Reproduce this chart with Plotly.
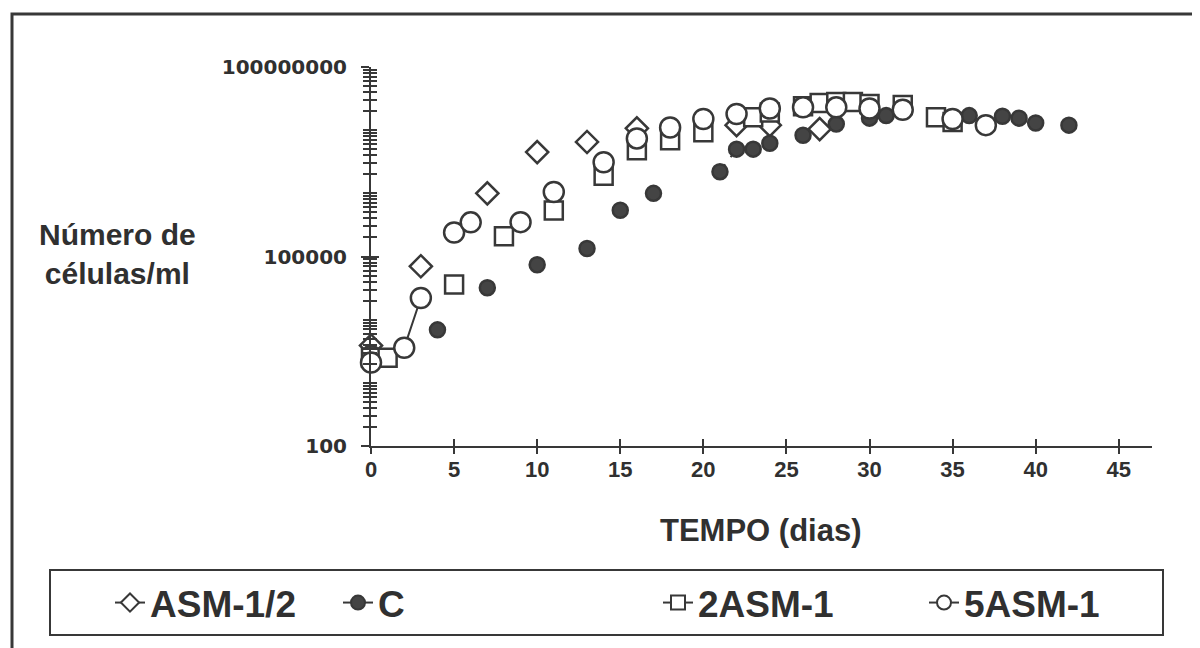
import plotly.graph_objects as go

# ---- data ----
asm12_days = [0, 3, 7, 10, 13, 16, 22, 24, 27]
asm12_vals = [3900, 70000, 1.0e6, 4.5e6, 6.5e6, 1.07e7, 1.2e7, 1.2e7, 1.04e7]

c_days = [0, 4, 7, 10, 13, 15, 17, 21, 22, 23, 24, 26, 28, 30, 31, 36, 38, 39, 40, 42]
c_vals = [3000, 6900, 32000, 74000, 134000, 5.4e5, 1.0e6, 2.2e6, 5.0e6, 5.0e6, 6.2e6,
          8.3e6, 1.25e7, 1.55e7, 1.7e7, 1.7e7, 1.66e7, 1.55e7, 1.3e7, 1.2e7]

a2_days = [0, 1, 5, 8, 11, 14, 16, 18, 20, 23, 24, 26, 27, 28, 29, 30, 32, 34, 35]
a2_vals = [2500, 2500, 36000, 2.09e5, 5.37e5, 1.9e6, 4.8e6, 6.9e6, 9.3e6, 1.6e7, 1.9e7,
           2.4e7, 2.7e7, 2.8e7, 2.8e7, 2.6e7, 2.5e7, 1.6e7, 1.35e7]

a5_days = [0, 2, 3, 5, 6, 9, 11, 14, 16, 18, 20, 22, 24, 26, 28, 30, 32, 35, 37]
a5_vals = [2100, 3600, 22000, 2.4e5, 3.47e5, 3.5e5, 1.05e6, 3.1e6, 7.4e6, 1.1e7, 1.5e7,
           1.8e7, 2.2e7, 2.3e7, 2.3e7, 2.2e7, 2.1e7, 1.5e7, 1.2e7]

names = ["ASM-1/2", "C", "2ASM-1", "5ASM-1"]
x_ticks = [0, 5, 10, 15, 20, 25, 30, 35, 40, 45]
y_ticks = [100, 100000, 100000000]
y_ticktext = ["100", "100000", "100000000"]

# ---- layout geometry (screenshot pixels; page body has an 8px margin) ----
OFF = 8
W, H = 1200 - OFF, 648 - OFF
L, R, T, B = 371 - OFF, 1152 - OFF, 67 - OFF, 446 - OFF
PW, PH = R - L, B - T


def px(xs):
    return (xs - OFF - L) / PW


def py(ys):
    return (B - (ys - OFF)) / PH


INK = "#383838"
TXT = "#303030"
FONT = "Liberation Sans, Arial, sans-serif"

fig = go.Figure()

# connecting line segments visible in the reference
seg_style = dict(mode="lines", showlegend=False, hoverinfo="skip", cliponaxis=False)
fig.add_trace(go.Scatter(x=c_days[7:9], y=c_vals[7:9], line=dict(color=INK, width=2, dash="dash"), **seg_style))
fig.add_trace(go.Scatter(x=a2_days[0:2], y=a2_vals[0:2], line=dict(color=INK, width=2), **seg_style))
fig.add_trace(go.Scatter(x=a5_days[0:3], y=a5_vals[0:3], line=dict(color=INK, width=2), **seg_style))

series = [
    (asm12_days, asm12_vals, names[0], "diamond", "white", 17),
    (c_days, c_vals, names[1], "circle", "#444444", 15),
    (a2_days, a2_vals, names[2], "square", "white", 18),
    (a5_days, a5_vals, names[3], "circle", "white", 20),
]
for d, v, n, sym, fill, size in series:
    fig.add_trace(go.Scatter(
        x=d, y=v, mode="markers", name=n, showlegend=False, cliponaxis=False,
        marker=dict(symbol=sym, size=size, color=fill, line=dict(color=INK, width=2.5)),
    ))

# legend entries (placed on the overlay axes so those axes are drawn)
legend_ids = ["legend", "legend2", "legend3", "legend4"]
for i, (d, v, n, sym, fill, size) in enumerate(series):
    fig.add_trace(go.Scatter(
        x=[None], y=[None], mode="lines+markers", name=n, legend=legend_ids[i],
        xaxis="x2", yaxis="y2",
        line=dict(color=INK, width=2),
        marker=dict(symbol=sym, size=14, color=fill, line=dict(color=INK, width=2)),
    ))

minor_y = [m * 10 ** e for e in range(2, 8) for m in range(1, 10)] + [1e8]

xtickfont = dict(family=FONT, size=22, color=TXT, weight="bold")
ytickfont = dict(family="DejaVu Sans, Liberation Sans, sans-serif", size=20, color=TXT, weight="bold")

# legend text start positions (screenshot px)
leg_text_x = [152, 380, 700, 966]
legends = {}
for lid, tx in zip(legend_ids, leg_text_x):
    legends[lid] = dict(orientation="h", x=px(tx - 42), y=py(603), xanchor="left", yanchor="middle",
                        bgcolor="rgba(0,0,0,0)", font=dict(family=FONT, size=37, color=TXT, weight="bold"))

fig.update_layout(
    width=W, height=H,
    margin=dict(l=L, r=W - R, t=T, b=H - B),
    paper_bgcolor="white", plot_bgcolor="white",
    showlegend=True,
    xaxis=dict(range=[0, 47], tickvals=x_ticks, ticks="inside", ticklen=7, tickwidth=2,
               tickcolor=INK, showline=True, linecolor=INK, linewidth=2, showgrid=False,
               zeroline=False, tickfont=xtickfont, ticklabelstandoff=3),
    xaxis2=dict(range=[0, 47], overlaying="x", tickvals=x_ticks, ticks="outside", ticklen=7,
                tickwidth=2, tickcolor=INK, showline=False, showgrid=False, zeroline=False,
                showticklabels=False, anchor="y2", side="bottom"),
    yaxis=dict(type="log", range=[2, 8], tickvals=y_ticks, ticktext=y_ticktext,
               ticks="outside", ticklen=8, tickwidth=2, tickcolor=INK,
               minor=dict(tickvals=minor_y, ticks="outside", ticklen=6, tickwidth=1.5,
                          tickcolor=INK, showgrid=False),
               showline=True, linecolor=INK, linewidth=2, showgrid=False, zeroline=False,
               tickfont=ytickfont, ticklabelstandoff=10),
    yaxis2=dict(type="log", range=[2, 8], overlaying="y", tickvals=y_ticks, ticks="inside",
                ticklen=8, tickwidth=2, tickcolor=INK,
                minor=dict(tickvals=minor_y, ticks="inside", ticklen=6, tickwidth=1.5,
                           tickcolor=INK, showgrid=False),
                showline=False, showgrid=False, zeroline=False, showticklabels=False,
                anchor="x2", side="left"),
    shapes=[
        dict(type="rect", xref="paper", yref="paper", x0=px(50), x1=px(1163), y0=py(635), y1=py(570),
             line=dict(color=INK, width=2)),
        dict(type="rect", xref="paper", yref="paper", x0=px(12), x1=px(1220), y0=py(680), y1=py(14),
             line=dict(color=INK, width=3)),
    ],
    annotations=[
        dict(text="Número de<br>células/ml", xref="paper", yref="paper", x=px(117), y=py(254),
             xanchor="center", yanchor="middle", showarrow=False, align="center",
             font=dict(family=FONT, size=30, color=TXT, weight="bold")),
        dict(text="TEMPO (dias)", xref="paper", yref="paper", x=px(761), y=py(530),
             xanchor="center", yanchor="middle", showarrow=False,
             font=dict(family=FONT, size=31, color=TXT, weight="bold")),
    ],
    **legends,
)

fig.write_html("out.html")
